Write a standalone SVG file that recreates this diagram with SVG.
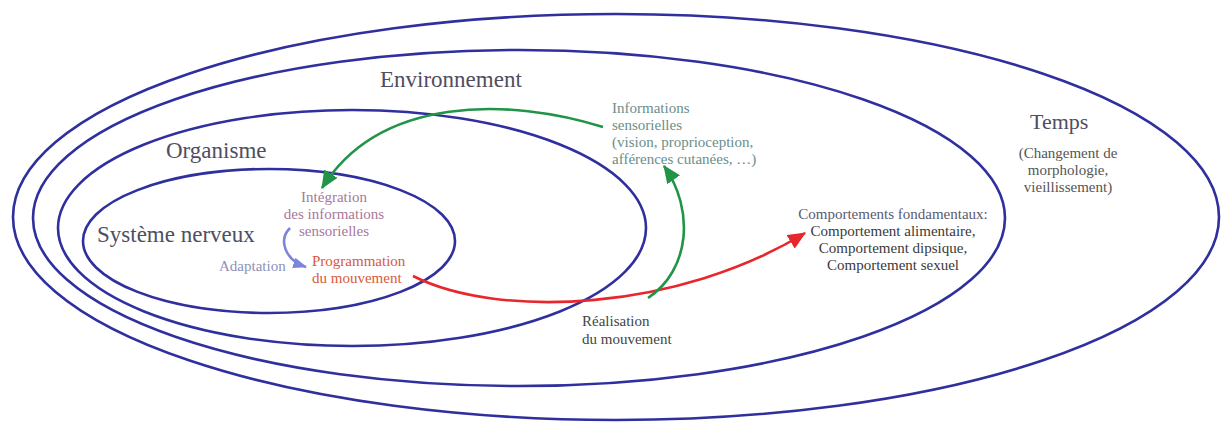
<svg xmlns="http://www.w3.org/2000/svg" width="1223" height="426" viewBox="0 0 1223 426">
<style>
.ring{fill:none;stroke:#2f2f9e;stroke-width:2.6}
text{font-family:'Liberation Serif','Times New Roman','DejaVu Serif',serif}
.title{font-size:23px;fill:#4e4e62}
.small{font-size:15px}
.conn{fill:none;stroke-width:2.6}
</style>
<defs>
<marker id="ag" markerUnits="userSpaceOnUse" markerWidth="18" markerHeight="16" refX="15" refY="7" orient="auto" viewBox="0 0 16 14"><path d="M0,0 L16,7 L0,14 Z" fill="#229448"/></marker>
<marker id="ar" markerUnits="userSpaceOnUse" markerWidth="18" markerHeight="16" refX="15" refY="7" orient="auto" viewBox="0 0 16 14"><path d="M0,0 L16,7 L0,14 Z" fill="#e8262c"/></marker>
<marker id="ab" markerUnits="userSpaceOnUse" markerWidth="14" markerHeight="12" refX="12" refY="5" orient="auto" viewBox="0 0 13 10"><path d="M0,0 L13,5 L0,10 Z" fill="#7c84dc"/></marker>
</defs>
<rect width="1223" height="426" fill="#ffffff"/>

<g id="temps">
<ellipse class="ring" cx="616" cy="217" rx="603" ry="203"/>
<text class="title" x="1030" y="129" style="font-size:22px">Temps</text>
<text class="small" fill="#555555" text-anchor="middle"><tspan x="1068" y="158">(Changement de</tspan><tspan x="1068" y="175">morphologie,</tspan><tspan x="1068" y="192">vieillissement)</tspan></text>
</g>

<g id="environnement">
<ellipse class="ring" cx="519" cy="218" rx="486" ry="168"/>
<text class="title" x="380" y="87">Environnement</text>
</g>

<g id="organisme">
<ellipse class="ring" cx="352" cy="228" rx="294" ry="118"/>
<text class="title" x="166" y="158">Organisme</text>
</g>

<g id="systeme-nerveux">
<ellipse class="ring" cx="269" cy="241" rx="186" ry="72"/>
<text class="title" x="97" y="242">Système nerveux</text>
</g>

<g id="integration">
<text class="small" fill="#a8789a" text-anchor="middle"><tspan x="334" y="202">Intégration</tspan><tspan x="334" y="219">des informations</tspan><tspan x="334" y="236">sensorielles</tspan></text>
</g>

<g id="programmation">
<text class="small" fill="#d85a3c"><tspan x="312" y="266">Programmation</tspan><tspan x="312" y="283">du mouvement</tspan></text>
</g>

<g id="adaptation">
<text class="small" fill="#8c90b8" x="219" y="271">Adaptation</text>
</g>

<g id="informations">
<text class="small" fill="#6a8e8c"><tspan x="612" y="113">Informations</tspan><tspan x="612" y="130">sensorielles</tspan><tspan x="612" y="147">(vision, proprioception,</tspan><tspan x="612" y="164">afférences cutanées, …)</tspan></text>
</g>

<g id="comportements">
<text class="small" text-anchor="middle"><tspan x="893" y="219" fill="#5a5a70">Comportements fondamentaux:</tspan><tspan x="893" y="236" fill="#3a3a3a">Comportement alimentaire,</tspan><tspan x="893" y="253" fill="#3a3a3a">Comportement dipsique,</tspan><tspan x="893" y="270" fill="#3a3a3a">Comportement sexuel</tspan></text>
</g>

<g id="realisation">
<text class="small" fill="#444444"><tspan x="582" y="326">Réalisation</tspan><tspan x="582" y="344">du mouvement</tspan></text>
</g>

<g id="connectors">
<path class="conn" stroke="#229448" d="M603,127 C510,98 380,95 322,188" marker-end="url(#ag)"/>
<path class="conn" stroke="#e8262c" d="M413,276 C500,320 680,310 805,233" marker-end="url(#ar)"/>
<path class="conn" stroke="#229448" d="M648,298 C690,270 695,210 664,166" marker-end="url(#ag)"/>
<path class="conn" stroke="#7c84dc" stroke-width="2" d="M290,228 C278,240 285,260 306,267" marker-end="url(#ab)"/>
</g>
</svg>
